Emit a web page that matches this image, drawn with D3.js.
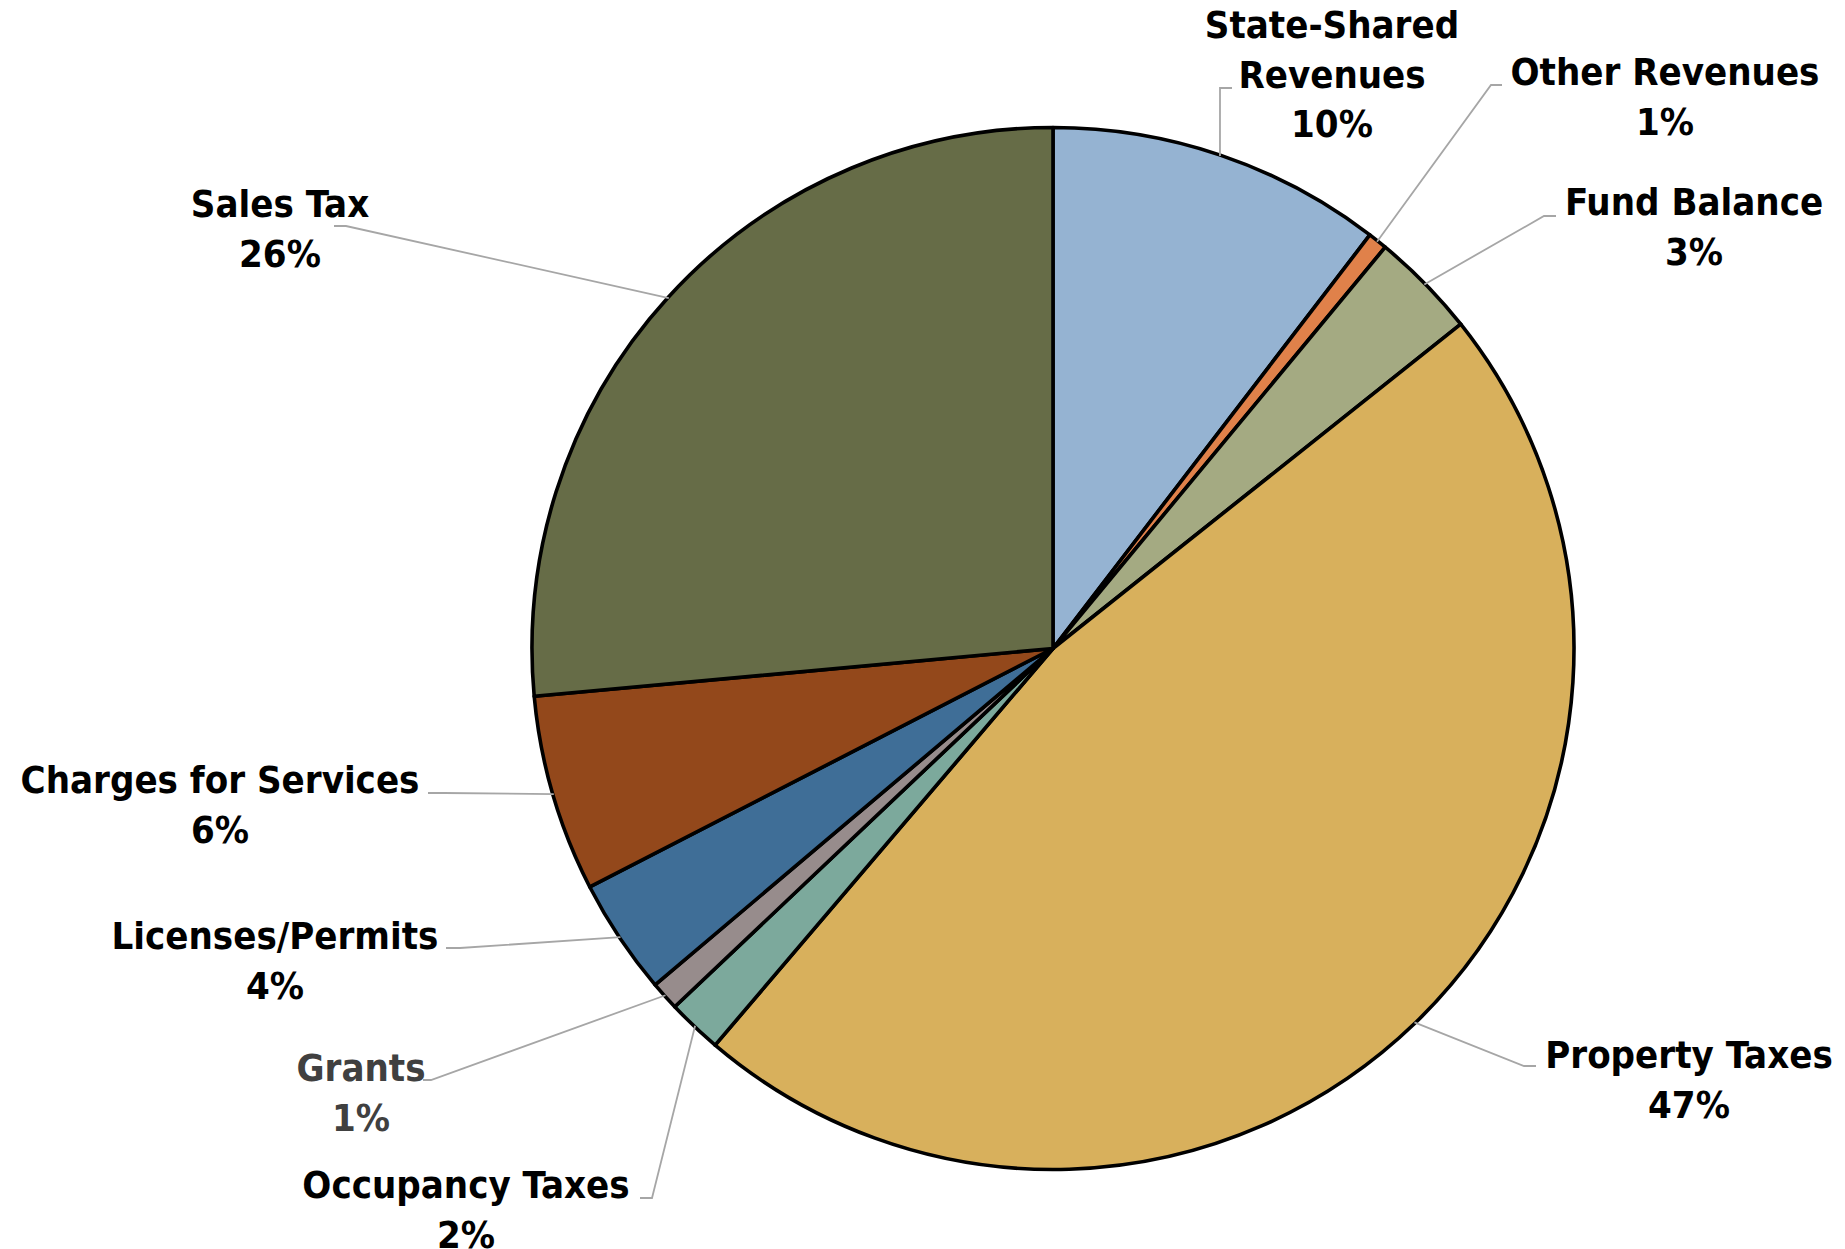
<!DOCTYPE html>
<html>
<head>
<meta charset="utf-8">
<script src="https://cdn.jsdelivr.net/npm/d3@7"></script>
<style>
  html, body { margin: 0; padding: 0; background: #ffffff; }
  svg { display: block; }
  .lbl { font-family: "DejaVu Sans Condensed", "DejaVu Sans", sans-serif; font-stretch: condensed; font-weight: bold; font-size: 38px; }
</style>
</head>
<body>
<svg id="chart" width="1845" height="1249"></svg>
<script>
// General fund revenue sources, clockwise from 12 o'clock
const categories = [
  "State-Shared Revenues",
  "Other Revenues",
  "Fund Balance",
  "Property Taxes",
  "Occupancy Taxes",
  "Grants",
  "Licenses/Permits",
  "Charges for Services",
  "Sales Tax"
];
// share of total revenue, percent
const shares = [10.4, 0.6, 3.3, 46.9, 1.7, 0.9, 3.6, 6.1, 26.45];

const sliceColors = ["#95b3d2", "#e0814a", "#a4aa82", "#d8b05c", "#7ca99c", "#978c8c", "#3f6e97", "#93481b", "#666c47"];
const labelColors = ["#000", "#000", "#000", "#000", "#000", "#404040", "#000", "#000", "#000"];

// Label placement: centre x, first baseline, leader elbow and end point, and whether the name wraps
const labelLayout = [
  { cx: 1332, y: 38,   elbow: [1220, 88],   end: [1232, 88],   wrap: true },
  { cx: 1665, y: 85,   elbow: [1491, 85],   end: [1502, 85],   wrap: false },
  { cx: 1694, y: 215,  elbow: [1544, 216],  end: [1556, 216],  wrap: false },
  { cx: 1689, y: 1068, elbow: [1524, 1066], end: [1536, 1066], wrap: false },
  { cx: 466,  y: 1198, elbow: [652, 1198],  end: [640, 1198],  wrap: false },
  { cx: 361,  y: 1081, elbow: [431, 1080],  end: [423, 1080],  wrap: false },
  { cx: 275,  y: 949,  elbow: [460, 948],   end: [446, 948],   wrap: false },
  { cx: 220,  y: 793,  elbow: [444, 793],   end: [428, 793],   wrap: false },
  { cx: 280,  y: 217,  elbow: [346, 226],   end: [334, 226],   wrap: false }
];

const svg = d3.select("#chart");
const cx = 1053, cy = 648.5, radius = 521;
const lineGap = 49.5;

const total = d3.sum(shares);
const pct = d3.format(".0%");

const pie = d3.pie().sort(null).value(d => d).startAngle(0).endAngle(2 * Math.PI);
const arcs = pie(shares);
const arc = d3.arc().innerRadius(0).outerRadius(radius);

const g = svg.append("g").attr("transform", `translate(${cx},${cy})`);

g.selectAll("path.slice")
  .data(arcs)
  .join("path")
  .attr("class", "slice")
  .attr("d", arc)
  .attr("fill", (d, i) => sliceColors[i])
  .attr("stroke", "#000")
  .attr("stroke-width", 3.6)
  .attr("stroke-linejoin", "round");

// leader lines from slice mid-arc to labels
const leader = d3.line();
svg.append("g")
  .selectAll("path.leader")
  .data(arcs)
  .join("path")
  .attr("class", "leader")
  .attr("fill", "none")
  .attr("stroke", "#a6a6a6")
  .attr("stroke-width", 1.8)
  .attr("d", (d, i) => {
    const a = (d.startAngle + d.endAngle) / 2;
    const p0 = [cx + (radius - 1) * Math.sin(a), cy - (radius - 1) * Math.cos(a)];
    const L = labelLayout[i];
    return leader([p0, L.elbow, L.end]);
  });

// category + percentage labels
const labels = svg.append("g")
  .selectAll("text.lbl")
  .data(arcs)
  .join("text")
  .attr("class", "lbl")
  .attr("text-anchor", "middle")
  .attr("fill", (d, i) => labelColors[i]);

labels.each(function (d, i) {
  const L = labelLayout[i];
  const name = categories[i];
  const lines = L.wrap ? [name.slice(0, name.indexOf(" ")), name.slice(name.indexOf(" ") + 1)] : [name];
  lines.push(pct(d.value / total));
  d3.select(this).selectAll("tspan")
    .data(lines)
    .join("tspan")
    .attr("x", L.cx)
    .attr("y", (t, k) => L.y + k * lineGap)
    .text(t => t);
});
</script>
</body>
</html>
